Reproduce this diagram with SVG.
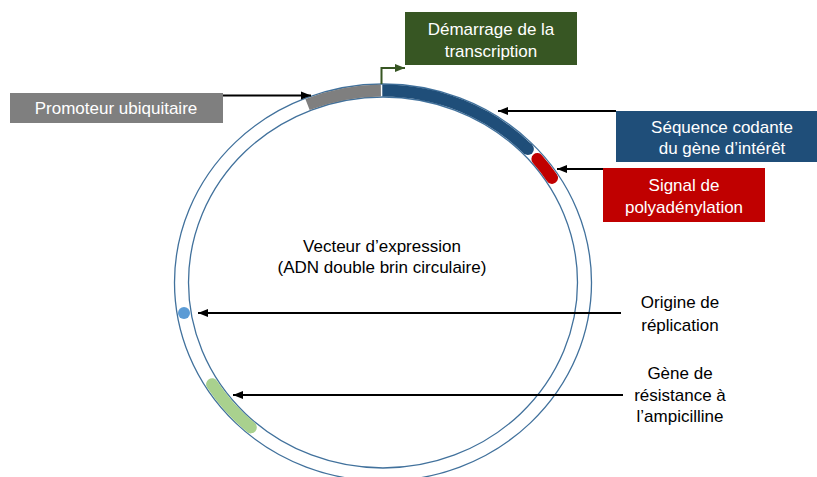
<svg xmlns="http://www.w3.org/2000/svg" width="817" height="477" viewBox="0 0 817 477">
<defs>
<style>
text{font-family:"Liberation Sans",Arial,sans-serif;font-size:17px;text-anchor:middle}
.w{fill:#ffffff}
.k{fill:#000000}
.ring{fill:none;stroke:#41719C;stroke-width:1.3}
.band{fill:none;stroke-width:12}
.arr{stroke:#000;stroke-width:2;fill:none;marker-end:url(#ah)}
</style>
<marker id="ah" markerUnits="userSpaceOnUse" markerWidth="10" markerHeight="10" viewBox="0 0 10 10" refX="10" refY="5" orient="auto">
<path d="M0,1 L10,5 L0,9 Z" fill="#000"/>
</marker>
<marker id="ahg" markerUnits="userSpaceOnUse" markerWidth="10" markerHeight="10" viewBox="0 0 10 10" refX="10" refY="5" orient="auto">
<path d="M0,1 L10,5 L0,9 Z" fill="#375623"/>
</marker>
</defs>
<rect width="817" height="477" fill="#ffffff"/>
<g id="plasmid">
<ellipse class="ring" cx="383" cy="282.5" rx="208.5" ry="198.5"/>
<ellipse class="ring" cx="383" cy="282.5" rx="194.5" ry="185.5"/>
<path class="band" stroke="#7F7F7F" d="M307.5,104.5 A201.5,192 0 0 1 380.9,90.5"/>
<path class="band" stroke="#1F4E79" d="M382.3,90.5 A201.5,192 0 0 1 527.9,149.1"/>
<circle cx="527.9" cy="149.1" r="6" fill="#1F4E79"/>
<path class="band" stroke="#C00000" stroke-linecap="round" d="M537.4,159.1 A201.5,192 0 0 1 552,177.9"/>
<path class="band" stroke="#A9D18E" stroke-linecap="round" d="M250.8,427.4 A201.5,192 0 0 1 212.1,384.2"/>
<circle cx="184" cy="313" r="6" fill="#5B9BD5"/>
<text class="k" x="382" y="252">Vecteur d’expression</text>
<text class="k" x="382" y="273">(ADN double brin circulaire)</text>
</g>
<g id="connectors">
<path d="M381.5,84 V68 H405" stroke="#375623" stroke-width="2" fill="none" marker-end="url(#ahg)"/>
<path class="arr" d="M223,95.5 H311"/>
<path class="arr" d="M616,111 H498"/>
<path class="arr" d="M603,169 H557"/>
<path class="arr" d="M621,313 H198"/>
<path class="arr" d="M623,395 H233"/>
</g>
<g id="promoteur">
<rect x="10" y="93" width="213" height="30" fill="#7F7F7F"/>
<text class="w" x="116" y="114">Promoteur ubiquitaire</text>
</g>
<g id="demarrage">
<rect x="405" y="12" width="172" height="53" fill="#375623"/>
<text class="w" x="491" y="35">Démarrage de la</text>
<text class="w" x="491" y="57">transcription</text>
</g>
<g id="sequence">
<rect x="616" y="111" width="201" height="51" fill="#1F4E79"/>
<text class="w" x="722" y="133">Séquence codante</text>
<text class="w" x="722" y="154">du gène d’intérêt</text>
</g>
<g id="signal">
<rect x="603" y="168" width="162" height="54" fill="#C00000"/>
<text class="w" x="684" y="191">Signal de</text>
<text class="w" x="684" y="213">polyadénylation</text>
</g>
<g id="origine">
<text class="k" x="680" y="308">Origine de</text>
<text class="k" x="680" y="331">réplication</text>
</g>
<g id="ampicilline">
<text class="k" x="680" y="379">Gène de</text>
<text class="k" x="680" y="401">résistance à</text>
<text class="k" x="680" y="422">l’ampicilline</text>
</g>
</svg>
